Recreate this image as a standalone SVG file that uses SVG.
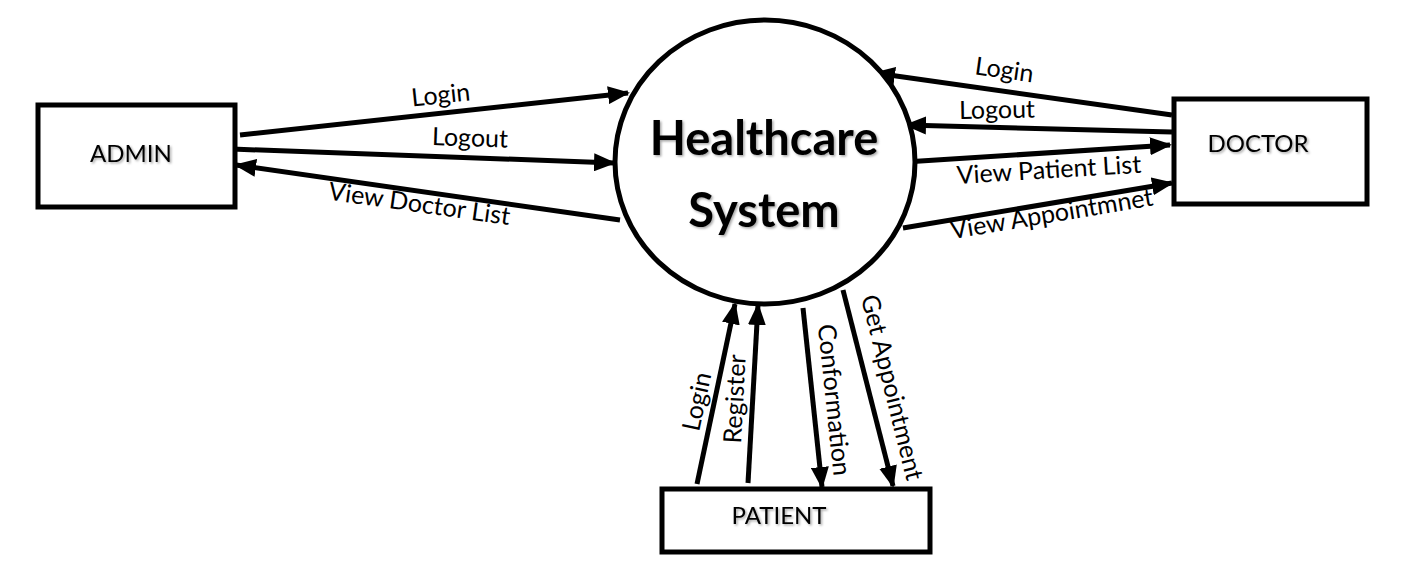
<svg xmlns="http://www.w3.org/2000/svg" width="1407" height="587" viewBox="0 0 1407 587">
<style>
.box{fill:#fff;stroke:#000;stroke-width:5}
.flow{stroke:#000;stroke-width:5;fill:none}
.lbl{font-family:Lato,"Open Sans","Liberation Sans",sans-serif;font-size:25px;fill:#000;text-anchor:middle;dominant-baseline:middle}
.name{font-family:Lato,"Open Sans","Liberation Sans",sans-serif;font-size:24px;fill:#000;text-anchor:middle;dominant-baseline:middle;filter:url(#sh)}
.title{font-family:Lato,"Open Sans","Liberation Sans",sans-serif;font-size:47px;font-weight:bold;fill:#000;text-anchor:middle;dominant-baseline:middle;filter:url(#sh)}
</style>
<defs>
<marker id="ah" markerUnits="userSpaceOnUse" markerWidth="22" markerHeight="18" refX="20" refY="9" orient="auto">
<path d="M0,0 L22,9 L0,18 Z" fill="#000"/>
</marker>
<filter id="sh" x="-10%" y="-10%" width="130%" height="140%">
<feDropShadow dx="1.5" dy="1.5" stdDeviation="1" flood-color="#000" flood-opacity="0.35"/>
</filter>
</defs>
<rect width="1407" height="587" fill="#fff"/>
<g id="connectors">
<line class="flow" x1="240" y1="135" x2="628" y2="93" marker-end="url(#ah)"/>
<line class="flow" x1="232" y1="149" x2="614" y2="163" marker-end="url(#ah)"/>
<line class="flow" x1="620" y1="220" x2="236" y2="165" marker-end="url(#ah)"/>
<line class="flow" x1="1172" y1="115" x2="875" y2="73" marker-end="url(#ah)"/>
<line class="flow" x1="1172" y1="132" x2="906" y2="125" marker-end="url(#ah)"/>
<line class="flow" x1="905" y1="162" x2="1170" y2="145" marker-end="url(#ah)"/>
<line class="flow" x1="903" y1="228" x2="1172" y2="183" marker-end="url(#ah)"/>
<line class="flow" x1="697" y1="484" x2="735" y2="304" marker-end="url(#ah)"/>
<line class="flow" x1="748" y1="483" x2="758" y2="305" marker-end="url(#ah)"/>
<line class="flow" x1="803" y1="308" x2="822" y2="487" marker-end="url(#ah)"/>
<line class="flow" x1="843" y1="290" x2="893" y2="486" marker-end="url(#ah)"/>
<text class="lbl" transform="translate(441,97) rotate(-6)">Login</text>
<text class="lbl" transform="translate(470,140) rotate(2)">Logout</text>
<text class="lbl" transform="translate(419,206) rotate(8)">View Doctor List</text>
<text class="lbl" transform="translate(1004,72) rotate(8)">Login</text>
<text class="lbl" transform="translate(997,112) rotate(-1)">Logout</text>
<text class="lbl" transform="translate(1049,172) rotate(-3.5)">View Patient List</text>
<text class="lbl" transform="translate(1052,216) rotate(-9.5)">View Appointmnet</text>
<text class="lbl" transform="translate(699,402) rotate(-78)">Login</text>
<text class="lbl" transform="translate(737,399) rotate(-87)">Register</text>
<text class="lbl" transform="translate(832,400) rotate(84)">Conformation</text>
<text class="lbl" transform="translate(890,388) rotate(76)">Get Appointment</text>
</g>
<g id="system">
<ellipse cx="765" cy="162" rx="150" ry="142" fill="#fff" stroke="#000" stroke-width="5"/>
<text class="title" x="764" y="143">Healthcare</text>
<text class="title" x="764" y="215">System</text>
</g>
<g id="admin">
<rect class="box" x="38" y="105" width="197" height="102"/>
<text class="name" x="131" y="156">ADMIN</text>
</g>
<g id="doctor">
<rect class="box" x="1174" y="99" width="193" height="105"/>
<text class="name" x="1258" y="146">DOCTOR</text>
</g>
<g id="patient">
<rect class="box" x="662" y="489" width="268" height="63"/>
<text class="name" x="779" y="518">PATIENT</text>
</g>
</svg>
